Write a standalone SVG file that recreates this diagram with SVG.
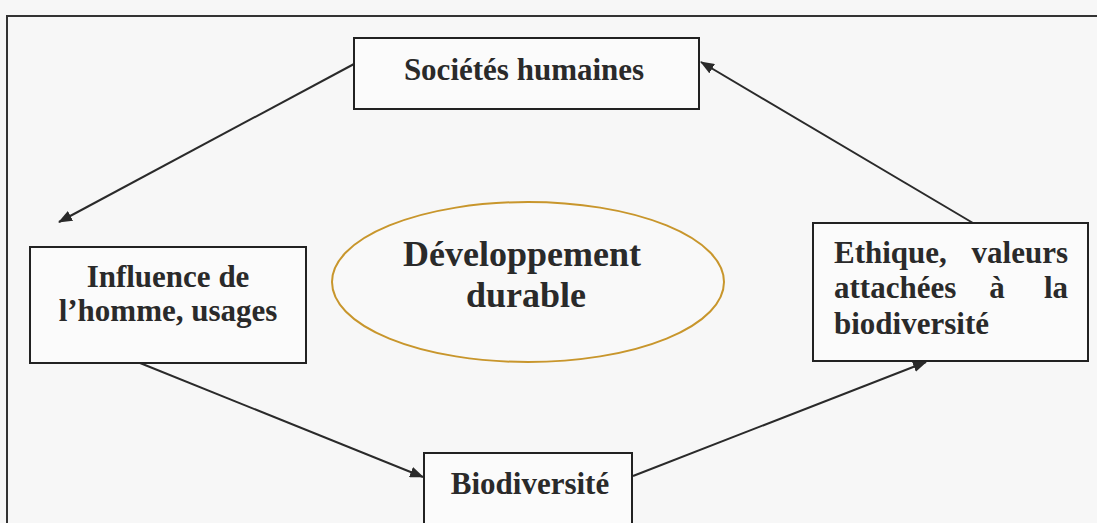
<svg xmlns="http://www.w3.org/2000/svg" width="1097" height="523" viewBox="0 0 1097 523">
<defs>
<style>
.box{fill:#fbfbfb;stroke:#222;stroke-width:2}
.t{font-family:"Liberation Serif","Times New Roman",serif;font-weight:bold;font-size:31px;fill:#2a2a2a}
.big{font-size:36px}
.c{stroke:#2a2a2a;stroke-width:2;fill:none;marker-end:url(#ah)}
</style>
<marker id="ah" viewBox="0 0 14 11" refX="13" refY="5.5" markerWidth="14" markerHeight="11" markerUnits="userSpaceOnUse" orient="auto">
<path d="M0,0 L14,5.5 L0,11 Z" fill="#2a2a2a"/>
</marker>
</defs>
<rect x="0" y="0" width="1097" height="523" fill="#f7f7f7"/>
<path d="M7,523 V16 H1097" fill="none" stroke="#333" stroke-width="2"/>
<g id="connectors">
<line class="c" x1="354" y1="64" x2="59" y2="222"/>
<line class="c" x1="140" y1="363" x2="423" y2="477"/>
<line class="c" x1="633" y1="476" x2="926" y2="362"/>
<line class="c" x1="973" y1="223" x2="701" y2="62"/>
</g>
<g id="societes">
<rect class="box" x="354" y="38" width="345" height="71"/>
<text class="t" x="524" y="80" text-anchor="middle">Sociétés humaines</text>
</g>
<g id="influence">
<rect class="box" x="30" y="247" width="276" height="116"/>
<text class="t" x="168" y="287" text-anchor="middle">Influence de</text>
<text class="t" x="168" y="321" text-anchor="middle">l’homme, usages</text>
</g>
<g id="developpement">
<ellipse cx="528" cy="282" rx="196" ry="80" fill="#f9f9f9" stroke="#c8962c" stroke-width="2"/>
<text class="t big" x="522" y="266" text-anchor="middle">Développement</text>
<text class="t big" x="526" y="307" text-anchor="middle">durable</text>
</g>
<g id="ethique">
<rect class="box" x="813" y="223" width="275" height="138"/>
<text class="t" x="834" y="263">Ethique,</text>
<text class="t" x="1068" y="263" text-anchor="end">valeurs</text>
<text class="t" x="834" y="298">attachées</text>
<text class="t" x="997" y="298" text-anchor="middle">à</text>
<text class="t" x="1068" y="298" text-anchor="end">la</text>
<text class="t" x="834" y="334">biodiversité</text>
</g>
<g id="biodiversite">
<rect class="box" x="424" y="453" width="208" height="90"/>
<text class="t" x="530" y="494" text-anchor="middle">Biodiversité</text>
</g>
</svg>
